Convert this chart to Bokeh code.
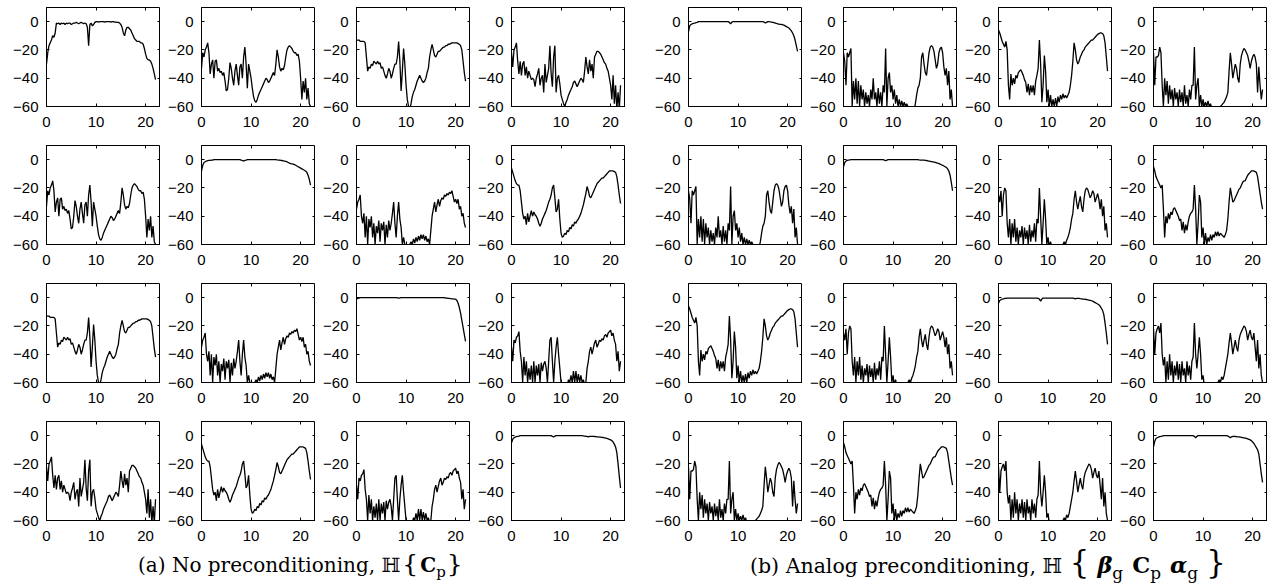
import numpy as np
from bokeh.plotting import figure
from bokeh.layouts import row, column, Spacer
from bokeh.models import Div, FixedTicker, LinearAxis, Range1d
from bokeh.embed import file_html
from bokeh.resources import INLINE

# frequency axis (kHz), bins every 0.25 kHz
freq_khz = np.arange(0, 22.01, 0.25)

# ---------------- (a) No preconditioning : magnitude (dB) ----------------
a11 = [-30,-22,-17,-15,-13,-10,-11,-8,
       -1,-1.5,-1,-2,-1,-1.5,-1,-2,
       -1,-1.5,-1,-1,-2,-1.5,-1,-1,
       -0.5,-1,-1.5,-1,-0.5,-1,-1.5,-1,
       -1.5,-4,-17,-2,-1,-3,-2,-0.5,
       0,0,-0.3,0,0,0,0,-0.3,
       0,0,0,0,-0.3,0,0,-0.3,
       -0.3,-0.5,-0.5,-1,-2,-4,-8,-10,
       -6,-4,-4,-5,-6,-8,-10,-12,
       -13,-14,-14,-14,-15,-15,-16,-19,
       -23,-26,-27,-27,-28,-30,-33,-37,
       -41]
a22 = [-8,-4,-2,-1.5,-1,-0.7,-0.5,-0.5,
       -0.3,-0.3,0,0,0,0,0,0,
       0,0,0,0,0,0,0,0,
       0,0,0,0,0,0,0,0,
       -0.3,-0.6,-1,-0.5,-0.3,0,0,0,
       0,0,0,0,0,0,0,0,
       0,0,0,0,0,0,0,0,
       0,0,0,0,0,-0.2,-0.3,-0.3,
       -0.5,-0.6,-0.8,-1,-1.2,-1.5,-2,-2.5,
       -2.8,-3,-3.2,-3.5,-4,-4.5,-5,-5.5,
       -6,-6.5,-7,-7.5,-8,-9,-11,-14,
       -18]
a33 = [-1,-0.5,-0.3,0,0,0,0,0,
       0,0,0,0,0,0,0,0,
       0,0,0,0,0,0,0,0,
       0,0,0,0,0,0,0,0,
       0,-0.2,-0.4,-0.2,0,0,0,0,
       0,0,0,0,0,0,0,0,
       0,0,0,0,0,0,0,0,
       0,0,0,0,0,0,0,0,
       0,0,0,0,0,0,0,0,
       -0.3,-0.3,-0.5,-0.5,-0.7,-0.8,-0.9,-1,
       -1,-2,-4,-7,-11,-16,-21,-26,
       -31]
a44 = [-5,-2.5,-1.5,-1,-0.7,-0.5,-0.3,0,
       0,0,0,0,0,0,0,0,
       0,0,0,0,0,0,0,0,
       0,0,0,0,0,0,0,0,
       0,-0.5,-1,-0.3,0,0,0,0,
       0,0,0,0,0,0,0,0,
       0,0,0,0,0,0,0,0,
       0,0,-0.2,-0.3,-0.5,-0.5,-1,-0.5,
       -0.5,-0.5,-0.5,-0.6,-0.7,-0.8,-0.9,-1,
       -1,-1.2,-1.3,-1.5,-1.7,-2,-2.3,-2.6,
       -3,-3.5,-4.5,-6,-8,-12,-20,-29,
       -37]
a12 = [-33,-22,-25,-20,-18,-15,-22,-37,
       -30,-27,-40,-28,-27,-35,-33,-36,
       -35,-38,-36,-42,-49,-48,-40,-29,
       -33,-40,-45,-35,-30,-38,-45,-32,
       -30,-40,-25,-18,-30,-47,-30,-35,
       -40,-47,-53,-56,-57,-55,-52,-50,
       -48,-46,-44,-42,-40,-41,-43,-42,
       -40,-38,-36,-38,-30,-20,-25,-32,
       -35,-33,-34,-31,-25,-20,-18,-17,
       -18,-19,-21,-22,-22,-24,-23,-28,
       -40,-55,-42,-50,-40,-55,-47,-58,
       -60]
a13 = [-13,-13,-13,-14,-14,-14,-14,-15,
       -25,-35,-32,-33,-30,-31,-28,-29,
       -30,-28,-30,-29,-33,-32,-35,-38,
       -40,-37,-33,-35,-40,-37,-33,-30,
       -30,-25,-14,-28,-49,-35,-19,-30,
       -45,-55,-60,-62,-58,-53,-50,-48,
       -45,-42,-40,-38,-40,-42,-43,-42,
       -40,-36,-33,-25,-20,-16,-20,-24,
       -25,-23,-21,-21,-20,-19,-18,-18,
       -17,-17,-16,-16,-15.5,-15,-15,-15,
       -15,-15,-15.5,-16,-17,-20,-28,-36,
       -42]
a14 = [-22,-32,-20,-18,-15,-28,-37,-28,
       -38,-30,-28,-38,-32,-40,-35,-38,
       -41,-40,-41,-46,-40,-37,-33,-45,
       -40,-38,-50,-30,-43,-38,-33,-17,
       -37,-46,-25,-17,-50,-40,-38,-44,
       -52,-55,-58,-60,-57,-55,-52,-50,
       -48,-46,-43,-42,-44,-46,-44,-42,
       -40,-41,-43,-35,-25,-32,-37,-27,
       -35,-30,-40,-25,-23,-21,-21,-22,
       -23,-25,-27,-29,-30,-33,-35,-40,
       -45,-55,-38,-58,-45,-62,-50,-62,
       -45]
a23 = [-35,-30,-28,-25,-40,-45,-38,-55,
       -40,-60,-42,-48,-40,-55,-45,-60,
       -47,-52,-43,-58,-45,-50,-44,-60,
       -46,-55,-43,-50,-45,-38,-30,-45,
       -55,-40,-30,-42,-48,-60,-55,-60,
       -62,-60,-62,-60,-58,-60,-56,-59,
       -55,-58,-54,-57,-53,-56,-53,-57,
       -54,-58,-56,-60,-50,-40,-35,-30,
       -37,-32,-28,-33,-29,-27,-28,-25,
       -26,-24,-25,-23,-24,-22,-26,-30,
       -28,-31,-28,-35,-33,-40,-38,-45,
       -48]
a24 = [-6,-9,-12,-15,-17,-18,-18,-22,
       -30,-38,-42,-40,-46,-38,-44,-40,
       -36,-40,-37,-39,-40,-42,-45,-47,
       -45,-42,-40,-38,-36,-33,-30,-28,
       -25,-20,-18,-27,-37,-35,-28,-42,
       -52,-55,-54,-52,-53,-50,-51,-48,
       -49,-46,-47,-44,-45,-43,-42,-40,
       -38,-35,-32,-28,-24,-19,-22,-26,
       -27,-25,-23,-21,-19,-17,-16,-15,
       -14,-13,-13,-12,-11,-10,-9,-8,
       -8,-8,-8,-8.5,-9,-12,-18,-25,
       -31]
a34 = [-35,-45,-30,-32,-28,-27,-24,-38,
       -45,-60,-42,-55,-45,-60,-50,-58,
       -48,-60,-45,-60,-48,-55,-47,-60,
       -46,-52,-47,-45,-50,-60,-45,-30,
       -28,-45,-60,-45,-35,-28,-40,-50,
       -60,-62,-60,-62,-60,-62,-58,-60,
       -55,-60,-52,-60,-52,-60,-54,-60,
       -55,-60,-58,-62,-60,-50,-45,-38,
       -35,-40,-36,-32,-30,-35,-33,-30,
       -31,-29,-30,-27,-26,-28,-25,-24,
       -23,-27,-25,-30,-33,-45,-38,-52,
       -45]

# ---------------- (b) Analog preconditioning : magnitude (dB) ----------------
b11 = [-7,-3,-2,-1.5,-1.2,-1,-0.7,-0.5,
       0,0,0,0,0,0,0,0,
       0,0,0,0,0,0,0,0,
       0,0,0,0,0,0,0,0,
       0,-0.5,-1.5,-0.3,0,0,0,0,
       0,0,0,0,0,0,0,0,
       0,0,0,0,0,0,0,0,
       0,0,0,0,0,-0.3,-1,-0.5,
       0,0,-0.2,-0.3,-0.5,-0.7,-1,-1.3,
       -1.5,-1.8,-2,-2,-2.2,-2.5,-3,-3.5,
       -4,-4.5,-5.5,-6.5,-8,-10,-13,-17,
       -21]
b22 = [-5,-2,-1,-0.5,-0.3,-0.2,0,0,
       0,0,0,0,0,0,0,0,
       0,0,0,0,0,0,0,0,
       0,0,0,0,0,0,0,0,
       0,-0.3,-0.8,-0.3,0,0,0,0,
       0,0,0,0,0,0,0,0,
       0,0,0,0,0,0,0,0,
       0,0,0,0,0,-0.2,-0.3,-0.3,
       -0.3,-0.4,-0.5,-0.6,-0.8,-1,-1.2,-1.4,
       -1.6,-1.8,-2,-2.2,-2.5,-2.8,-3.2,-3.6,
       -4,-4.5,-5,-5.5,-6.5,-8,-11,-16,
       -22]
b33 = [-4,-2,-1.5,-1,-0.8,-0.5,-0.5,-0.3,
       -0.3,-0.3,-0.3,-0.3,-0.3,-0.3,-0.3,-0.3,
       -0.3,-0.3,-0.3,-0.3,-0.3,-0.3,-0.3,-0.3,
       -0.3,-0.3,-0.3,-0.3,-0.3,-0.3,-0.3,-0.3,
       -0.5,-1,-2.5,-1,-0.3,-0.3,-0.3,-0.3,
       -0.3,-0.3,-0.3,-0.3,-0.3,-0.3,-0.3,-0.3,
       -0.3,-0.3,-0.3,-0.3,-0.3,-0.3,-0.3,-0.3,
       -0.3,-0.3,-0.3,-0.3,-0.3,-0.5,-0.8,-0.5,
       -0.5,-0.5,-0.7,-0.8,-1,-1,-1.2,-1.3,
       -1.5,-1.7,-1.9,-2.2,-2.5,-3,-3.5,-4,
       -4.5,-5,-6,-7.5,-9,-12,-18,-25,
       -33]
b44 = [-8,-4,-2,-1.5,-1,-0.7,-0.5,-0.3,
       0,0,0,0,0,0,0,0,
       0,0,0,0,0,0,0,0,
       0,0,0,0,0,0,0,0,
       0,-0.5,-1.5,-0.5,0,0,0,0,
       0,0,0,0,0,0,0,0,
       0,0,0,0,0,0,0,0,
       0,0,0,0,-0.3,-0.8,-1.5,-0.8,
       -0.5,-0.5,-0.6,-0.7,-0.8,-0.9,-1,-1.2,
       -1.4,-1.6,-1.8,-2,-2.3,-2.6,-3,-3.5,
       -4.5,-5.5,-7,-8.5,-10,-13,-20,-27,
       -33]
b12 = [-22,-28,-45,-22,-25,-22,-19,-60,
       -42,-55,-40,-58,-42,-60,-45,-55,
       -48,-60,-50,-58,-52,-60,-48,-55,
       -40,-55,-50,-60,-47,-58,-50,-60,
       -45,-50,-19,-60,-40,-36,-50,-45,
       -55,-48,-58,-52,-60,-55,-60,-56,
       -60,-57,-60,-58,-60,-62,-60,-62,
       -61,-62,-58,-52,-47,-45,-40,-25,
       -22,-30,-36,-38,-30,-22,-18,-17,
       -18,-21,-27,-33,-30,-22,-19,-18,
       -22,-32,-38,-33,-45,-35,-55,-48,
       -60]
b13 = [-6,-8,-11,-14,-16,-18,-14,-20,
       -45,-55,-37,-45,-40,-44,-38,-40,
       -36,-35,-34,-36,-38,-41,-43,-50,
       -44,-52,-45,-50,-45,-52,-42,-38,
       -33,-13,-30,-57,-45,-24,-35,-57,
       -48,-60,-52,-60,-55,-60,-54,-60,
       -53,-57,-52,-55,-51,-54,-52,-54,
       -52,-50,-45,-38,-28,-15,-20,-27,
       -30,-28,-25,-23,-21,-20,-18,-17,
       -16,-15,-14,-13,-13,-12,-11,-10,
       -9,-8.5,-8,-8,-8.5,-10,-15,-25,
       -35]
b14 = [-22,-45,-25,-25,-24,-18,-22,-45,
       -60,-40,-52,-42,-58,-45,-55,-48,
       -60,-47,-55,-50,-60,-48,-57,-50,
       -60,-45,-58,-52,-60,-48,-55,-45,
       -45,-18,-55,-45,-40,-60,-52,-60,
       -55,-60,-57,-60,-56,-60,-58,-61,
       -60,-61,-60,-61,-60,-61,-60,-59,
       -58,-57,-55,-53,-50,-35,-22,-30,
       -40,-35,-30,-33,-40,-43,-30,-24,
       -21,-19,-20,-22,-24,-28,-33,-28,
       -25,-23,-25,-30,-50,-32,-45,-55,
       -48]
b23 = [-25,-30,-22,-40,-25,-20,-22,-45,
       -55,-42,-60,-45,-55,-42,-58,-48,
       -60,-50,-55,-47,-60,-48,-56,-50,
       -60,-46,-58,-50,-55,-45,-58,-42,
       -45,-20,-40,-60,-45,-28,-42,-60,
       -55,-62,-58,-62,-60,-62,-60,-61,
       -60,-62,-60,-61,-60,-58,-60,-57,
       -55,-52,-48,-42,-38,-28,-22,-30,
       -35,-30,-26,-33,-37,-28,-22,-20,
       -21,-24,-27,-25,-22,-24,-30,-27,
       -24,-28,-35,-28,-40,-33,-50,-45,
       -55]
b24 = [-5,-8,-12,-14,-16,-18,-20,-18,
       -35,-55,-40,-45,-38,-42,-37,-39,
       -35,-34,-36,-38,-40,-43,-42,-50,
       -44,-52,-46,-50,-44,-40,-38,-37,
       -35,-18,-35,-60,-45,-25,-30,-55,
       -48,-60,-52,-60,-55,-58,-53,-57,
       -53,-55,-51,-54,-51,-54,-52,-53,
       -54,-55,-53,-50,-42,-30,-20,-25,
       -30,-29,-27,-25,-23,-21,-20,-18,
       -16,-15,-15,-13,-11,-10,-9,-8,
       -8,-8,-8.5,-9,-12,-18,-24,-30,
       -35]
b34 = [-22,-40,-25,-22,-20,-25,-18,-40,
       -48,-42,-60,-45,-58,-40,-55,-45,
       -60,-48,-55,-45,-58,-47,-60,-45,
       -55,-50,-60,-45,-55,-48,-58,-45,
       -42,-18,-40,-50,-40,-28,-40,-58,
       -55,-62,-60,-62,-60,-62,-60,-61,
       -60,-62,-60,-61,-60,-58,-60,-56,
       -58,-55,-50,-45,-40,-32,-25,-32,
       -40,-35,-30,-35,-38,-30,-26,-24,
       -22,-20,-21,-24,-30,-26,-23,-28,
       -30,-25,-35,-45,-30,-50,-40,-55,
       -60]

x_ticks = [0, 10, 20]
y_ticks = [-60, -40, -20, 0]
y_tick_labels = {-60: "\u221260", -40: "\u221240", -20: "\u221220", 0: "0"}

grid_a = [[a11, a12, a13, a14],
          [a12, a22, a23, a24],
          [a13, a23, a33, a34],
          [a14, a24, a34, a44]]
grid_b = [[b11, b12, b13, b14],
          [b12, b22, b23, b24],
          [b13, b23, b33, b34],
          [b14, b24, b34, b44]]

TICK_FONT = "Liberation Sans"
TICK_SIZE = "15px"


def style_axis(ax, standoff=None):
    ax.axis_line_color = "black"
    ax.major_tick_in = 3
    ax.major_tick_out = 0
    ax.major_tick_line_color = "black"
    ax.minor_tick_line_color = None
    ax.major_label_text_font = TICK_FONT
    ax.major_label_text_color = "black"
    if standoff is not None:
        ax.major_label_text_font_size = TICK_SIZE
        ax.major_label_standoff = standoff
    else:
        ax.major_label_text_font_size = "0px"
        ax.major_label_standoff = 0
        ax.axis_line_color = None


def make_panel(vals):
    p = figure(width=155, height=138, x_range=Range1d(0, 23), y_range=Range1d(-60, 10),
               output_backend="svg", toolbar_location=None,
               min_border_left=41, min_border_right=0, min_border_top=7, min_border_bottom=32)
    p.line(freq_khz, vals, line_color="black", line_width=1.3)
    p.grid.visible = False
    p.outline_line_color = "black"
    p.outline_line_width = 1
    p.outline_line_alpha = 1
    p.background_fill_color = "white"
    p.border_fill_color = "white"
    p.xaxis.ticker = FixedTicker(ticks=x_ticks)
    p.yaxis.ticker = FixedTicker(ticks=y_ticks)
    p.yaxis.major_label_overrides = y_tick_labels
    style_axis(p.xaxis[0], 10)
    style_axis(p.yaxis[0], 8)
    # mirrored tick marks on the top and right edges (box on)
    top = LinearAxis(ticker=FixedTicker(ticks=x_ticks),
                     major_label_overrides={t: "" for t in x_ticks})
    right = LinearAxis(ticker=FixedTicker(ticks=y_ticks),
                       major_label_overrides={t: "" for t in y_ticks})
    style_axis(top)
    style_axis(right)
    p.add_layout(top, "above")
    p.add_layout(right, "right")
    return p


def make_grid(grid):
    rows = []
    for r in grid:
        rows.append(row(*[make_panel(v) for v in r]))
    return column(*rows)


cap_style = {"font-family": "'DejaVu Serif', serif", "font-size": "20px",
             "color": "black", "white-space": "nowrap", "line-height": "24px"}
SUB = "<sub style='line-height:0; font-size:0.75em'>{}</sub>"
BRACE = "<span style='font-size:{sz}; line-height:0; margin:0 {m}px'>{ch}</span>"
cap_a = ("<span style='position:relative; top:-4px'>(a) No preconditioning, "
         "\u210d" + BRACE.format(sz="1.25em", m=2, ch="{") +
         "<b>C</b>" + SUB.format("p") + BRACE.format(sz="1.25em", m=1, ch="}") + "</span>")
gap = "<span style='display:inline-block; width:9px'></span>"
cap_b = ("<span style='position:relative; top:-4px; font-size:20.5px'>(b) Analog preconditioning, "
         "\u210d" + BRACE.format(sz="1.5em", m=8, ch="{") +
         "<span style='font-size:1.1em'><b><i>\u03b2</i></b>" + SUB.format("g") + gap +
         "<b>C</b>" + SUB.format("p") + gap + "<b><i>\u03b1</i></b>" + SUB.format("g") + "</span>" +
         BRACE.format(sz="1.5em", m=8, ch="}") + "</span>")
div_a = Div(text=cap_a, width=602, height=36, styles=cap_style)
div_b = Div(text=cap_b, width=545, height=36, styles=cap_style)

layout = column(
    row(Spacer(width=5), make_grid(grid_a), Spacer(width=22), make_grid(grid_b)),
    row(Spacer(width=133), div_a, div_b),
)

open("out.html", "w").write(file_html(layout, INLINE))
